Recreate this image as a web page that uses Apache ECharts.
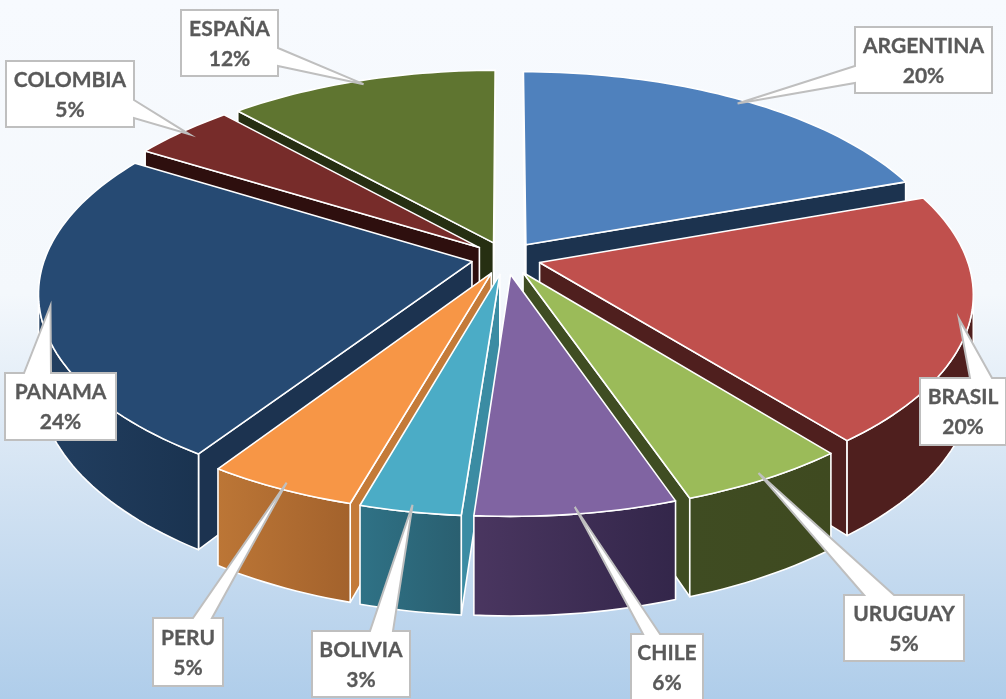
<!DOCTYPE html>
<html><head><meta charset="utf-8">
<style>html,body{margin:0;padding:0;background:#fff}#c{width:1006px;height:699px}</style>
<script src="https://cdn.jsdelivr.net/npm/echarts@6/dist/echarts.min.js"></script>
</head><body><div id="c"></div>
<script>
const categories = ['ARGENTINA','BRASIL','URUGUAY','CHILE','BOLIVIA','PERU','PANAMA','COLOMBIA','ESPAÑA'];
const percents = [19.6,19.6,5.49,6.49,3.27,4.85,24.45,4.5,11.75];

const topColors  = ['#4f81bd','#c0504d','#9bbb59','#8064a2','#4bacc6','#f79646','#264a73','#772c2a','#5f7530'];
const wallLeft   = ['#1c334f','#4f1f1e','#3f4c22','#4a3660','#2f7286','#bc7636','#223f61','#2e0f0e','#262f12'];
const wallRight  = ['#1c334f','#4f1f1e','#3f4a20','#33264a','#2a5f70','#a3622c','#1a3350','#2e0f0e','#262f12'];
const radialWall = ['#1c334f','#4f1f1e','#3f4d22','#4a3660','#3b8ca3','#c47a38','#1c3350','#2e0f0e','#262f12'];
// callout boxes: x, y, w, h, side of the pointer root, root start, root end
const boxes = [
  [855,27,137,66,'L',39,56],[920,378,86,67,'T',50,72],[844,595,120,66,'T',20,50],
  [631,634,72,66,'T',12,29],[312,631,98,66,'T',58,81],[153,618,70,68,'T',40,59],
  [5,373,111,67,'T',19,46],[6,61,128,66,'R',39,57],[181,10,97,66,'R',38,56]
];

// projection of the disc
const CX=506, CY=258, R=427, TILT=201.6, D=6.9, H=84, EXPLODE=0.0815;
const total = percents.reduce((a,b)=>a+b,0);
let acc=0;
const spans = percents.map(v=>{const a0=acc/total*2*Math.PI; acc+=v; return [a0,acc/total*2*Math.PI];});
function proj(X,Z,down){const s=D/(D+Z);return [CX+R*X*s, CY-TILT*Z*s+(down?H*s:0)];}
function mid(i){return (spans[i][0]+spans[i][1])/2;}
function pt(i,r,th,down){
  const m=mid(i);
  return proj(Math.sin(th)*r+Math.sin(m)*EXPLODE, Math.cos(th)*r+Math.cos(m)*EXPLODE, down);
}
function arc(i,a,b,down){const n=Math.max(4,Math.ceil((b-a)/0.025));const out=[];
  for(let k=0;k<=n;k++)out.push(pt(i,1,a+(b-a)*k/n,down));return out;}
const order = categories.map((_,i)=>i).sort((p,q)=>Math.cos(mid(q))-Math.cos(mid(p)));
const edge={stroke:'#fff',lineWidth:1.6,lineJoin:'round'};
function poly(points,fill){return {type:'polygon',shape:{points},style:Object.assign({fill},edge),silent:true};}

function renderSlice(params,api){
  const i=api.value(0), [a,b]=spans[i], m=mid(i);
  const children=[];
  const ap=pt(i,0,0,false), apD=pt(i,0,0,true);
  // camera relative to the slice apex, in disc coordinates
  const cx=-Math.sin(m)*EXPLODE, cz=-D-Math.cos(m)*EXPLODE;
  if(-Math.cos(a)*cx+Math.sin(a)*cz>0) children.push(poly([ap,pt(i,1,a,false),pt(i,1,a,true),apD],radialWall[i]));
  if(Math.cos(b)*cx-Math.sin(b)*cz>0) children.push(poly([ap,pt(i,1,b,false),pt(i,1,b,true),apD],radialWall[i]));
  // outer wall: only the part that faces the camera
  const lim=Math.acos(-1/D), a2=Math.max(a,lim), b2=Math.min(b,2*Math.PI-lim);
  if(b2>a2){
    const g=new echarts.graphic.LinearGradient(0,0,1,0,[{offset:0,color:wallLeft[i]},{offset:1,color:wallRight[i]}]);
    children.push(poly(arc(i,a2,b2,false).concat(arc(i,a2,b2,true).reverse()),g));
  }
  children.push(poly([ap].concat(arc(i,a,b,false)),topColors[i]));
  return {type:'group',children};
}
function renderCallout(params,api){
  const i=api.value(0), [x,y,w,h,side,r0,r1]=boxes[i];
  const tip=pt(i,0.975,mid(i),false);
  let p;
  if(side==='T') p=[[x,y],[x+r0,y],tip,[x+r1,y],[x+w,y],[x+w,y+h],[x,y+h]];
  if(side==='L') p=[[x,y],[x+w,y],[x+w,y+h],[x,y+h],[x,y+r1],tip,[x,y+r0]];
  if(side==='R') p=[[x,y],[x+w,y],[x+w,y+r0],tip,[x+w,y+r1],[x+w,y+h],[x,y+h]];
  return {type:'group',children:[
    {type:'polygon',shape:{points:p},style:{fill:'#fff',stroke:'#bfbfbf',lineWidth:2,lineJoin:'miter'},silent:true},
    {type:'text',silent:true,style:{x:x+w/2,y:y+h/2+1,text:categories[i]+'\n'+Math.round(percents[i])+'%',
      align:'center',verticalAlign:'middle',fontFamily:'Lato',fontWeight:'bold',fontSize:21,lineHeight:30,fill:'#595959',stroke:'#595959',lineWidth:0.3}}
  ]};
}
const chart=echarts.init(document.getElementById('c'),null,{renderer:'canvas'});
chart.setOption({
  animation:false,
  backgroundColor:new echarts.graphic.LinearGradient(0,0,0,1,[
    {offset:0,color:'#f7fafe'},{offset:0.42,color:'#f4f8fc'},{offset:0.72,color:'#d0e1f2'},{offset:1,color:'#afcdea'}]),
  series:[
    {type:'custom',coordinateSystem:'none',z:2,data:order.map(i=>[i]),renderItem:renderSlice,silent:true},
    {type:'custom',coordinateSystem:'none',z:3,data:categories.map((_,i)=>[i]),renderItem:renderCallout,silent:true}
  ]
});
</script></body></html>
